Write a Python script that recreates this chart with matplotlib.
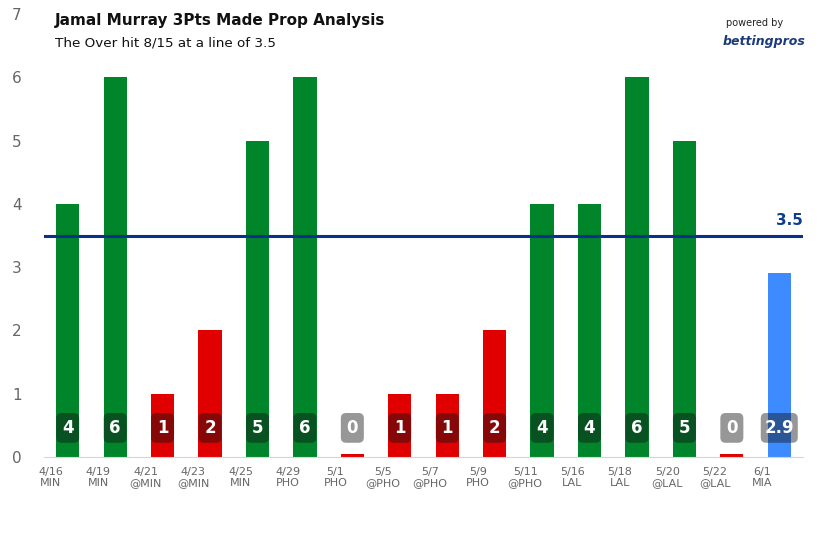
import matplotlib.pyplot as plt
import matplotlib.transforms as mtransforms
from matplotlib.patches import FancyBboxPatch

dates = ['4/16', '4/19', '4/21', '4/23', '4/25', '4/29', '5/1', '5/5',
         '5/7', '5/9', '5/11', '5/16', '5/18', '5/20', '5/22', '6/1']
opponents = ['MIN', 'MIN', '@MIN', '@MIN', 'MIN', 'PHO', 'PHO', '@PHO',
             '@PHO', 'PHO', '@PHO', 'LAL', 'LAL', '@LAL', '@LAL', 'MIA']
made = [4, 6, 1, 2, 5, 6, 0, 1, 1, 2, 4, 4, 6, 5, 0, 2.9]
line = 3.5
projection_index = 15

fig = plt.figure(figsize=(8.18, 5.45), dpi=100)
ax = fig.add_axes([44 / 818, 1 - 457 / 545, 759 / 818, 443 / 545])

green, red, blue = '#00852b', '#e00000', '#3d8bff'
x = list(range(len(made)))
heights, colors = [], []
for i, v in enumerate(made):
    if i == projection_index:
        heights.append(v)
        colors.append(blue)
    elif v > line:
        heights.append(v)
        colors.append(green)
    else:
        heights.append(max(v, 0.05))
        colors.append(red)

ax.bar(x, heights, width=0.49, color=colors, zorder=2)
ax.axhline(line, color='#0d2f8c', lw=2.2, zorder=3)
ax.text(1.0, line + 0.12, '3.5', transform=ax.get_yaxis_transform(),
        ha='right', va='bottom', color='#0d3d8c', fontsize=11, fontweight='bold')

# data label boxes: translucent dark overlay, rounded
box_h = 0.47
box_y = 0.46
for i, v in enumerate(made):
    lbl = f'{v:g}'
    w = 0.78 if len(lbl) > 1 else 0.485
    patch = FancyBboxPatch((i - w / 2, box_y - box_h / 2), w, box_h,
                           boxstyle='round,pad=0,rounding_size=0.11',
                           mutation_aspect=0.75, fc='#121212', alpha=0.44,
                           ec='none', zorder=4)
    ax.add_patch(patch)
    ax.text(i, box_y, lbl, ha='center', va='center', color='white',
            fontsize=12, fontweight='bold', zorder=5)

ax.set_xlim(-0.5, len(made) - 0.5)
ax.set_ylim(0, 7)
ax.set_yticks(range(8))
ax.tick_params(axis='y', length=0, colors='#666666', labelsize=11, pad=16)
ax.set_xticks(x)
ax.set_xticklabels([f'{d}\n{o}' for d, o in zip(dates, opponents)],
                   fontsize=8, color='#666666', linespacing=1.15)
ax.tick_params(axis='x', length=0, pad=7)
offset = mtransforms.ScaledTranslation(-17 / 100, 0, fig.dpi_scale_trans)
for t in ax.get_xticklabels():
    t.set_transform(t.get_transform() + offset)

for s in ['top', 'right', 'left']:
    ax.spines[s].set_visible(False)
ax.spines['bottom'].set_color('#ccd6eb')

fig.text(55 / 818, 1 - 21 / 545, 'Jamal Murray 3Pts Made Prop Analysis',
         fontsize=11, fontweight='bold', va='center', color='#111111')
fig.text(55 / 818, 1 - 43 / 545, 'The Over hit 8/15 at a line of 3.5',
         fontsize=9.7, va='center', color='#111111')
fig.text(783 / 818, 1 - 23 / 545, 'powered by', fontsize=7, ha='right',
         va='center', color='#222222')
fig.text(805 / 818, 1 - 41 / 545, 'bettingpros', fontsize=9, ha='right',
         va='center', color='#1a3a7a', fontweight='bold', style='italic')

fig.savefig('out.png', dpi=100)
